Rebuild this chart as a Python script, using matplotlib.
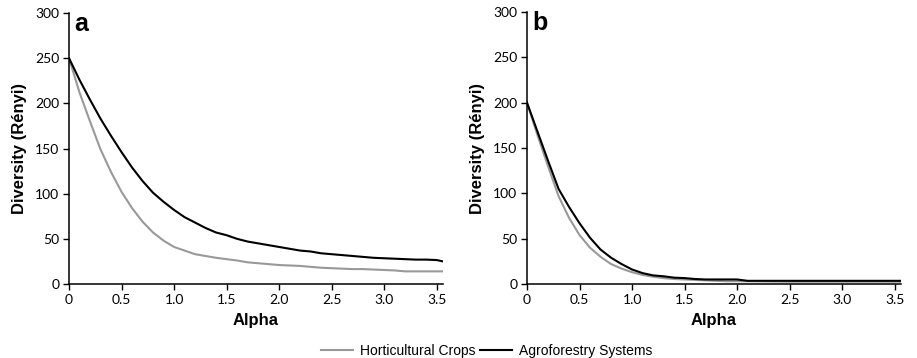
import numpy as np
import matplotlib.pyplot as plt

# panel a
alpha_a = [0, 0.1, 0.2, 0.3, 0.4, 0.5, 0.6, 0.7, 0.8, 0.9, 1.0, 1.1, 1.2, 1.3, 1.4, 1.5,
           1.6, 1.7, 1.8, 1.9, 2.0, 2.1, 2.2, 2.3, 2.4, 2.5, 2.6, 2.7, 2.8, 2.9, 3.0,
           3.1, 3.2, 3.3, 3.4, 3.5, 3.56]
agro_a = [250, 226, 204, 183, 164, 146, 129, 114, 101, 91, 82, 74, 68, 62, 57, 54,
          50, 47, 45, 43, 41, 39, 37, 36, 34, 33, 32, 31, 30, 29, 28.5,
          28, 27.5, 27, 27, 26.5, 25]
horti_a = [250, 212, 180, 149, 124, 102, 84, 69, 57, 48, 41, 37, 33, 31, 29, 27.5,
           26, 24, 23, 22, 21, 20.5, 20, 19, 18, 17.5, 17, 16.5, 16.5, 16, 15.5,
           15, 14, 14, 14, 14, 14]

# panel b
alpha_b = [0, 0.1, 0.2, 0.3, 0.4, 0.5, 0.6, 0.7, 0.8, 0.9, 1.0, 1.1, 1.2, 1.3, 1.4, 1.5,
           1.6, 1.7, 1.8, 1.9, 2.0, 2.1, 2.5, 3.0, 3.56]
agro_b = [200, 168, 136, 105, 85, 67, 51, 38, 29, 22, 16, 12, 9.5, 8.5, 7, 6.5,
          5.5, 5, 5, 5, 5, 3.5, 3.5, 3.5, 3.5]
horti_b = [200, 164, 130, 97, 73, 54, 40, 30, 22, 17, 13, 10, 8, 6.5, 5.5, 5,
           4.5, 4, 3.5, 3, 3, 3, 2.5, 2.5, 2.5]

xticks = [0, 0.5, 1.0, 1.5, 2.0, 2.5, 3.0, 3.5]
xticklabels = ['0', '0.5', '1.0', '1.5', '2.0', '2.5', '3.0', '3.5']
yticks = [0, 50, 100, 150, 200, 250, 300]

fig = plt.figure(figsize=(9.17, 3.58), dpi=100)
ax_a = fig.add_axes([69 / 917, 1 - 284 / 358, 374 / 917, 271 / 358])
ax_b = fig.add_axes([527 / 917, 1 - 284 / 358, 374 / 917, 272 / 358])


def style(ax, letter):
    for s in ['top', 'right']:
        ax.spines[s].set_visible(False)
    for s in ['left', 'bottom']:
        ax.spines[s].set_linewidth(1.1)
    ax.set_xlim(0, 3.56)
    ax.set_ylim(0, 300)
    ax.set_xticks(xticks)
    ax.set_xticklabels(xticklabels)
    ax.set_yticks(yticks)
    ax.tick_params(direction='out', length=4, width=1, labelsize=10, pad=3)
    for lab in ax.get_xticklabels() + ax.get_yticklabels():
        lab.set_family('Lato')
    ax.set_xlabel('Alpha', fontsize=12, fontweight='bold', family='Liberation Sans', labelpad=5)
    ax.set_ylabel('Diversity (Rényi)', fontsize=12, fontweight='bold', family='Liberation Sans', labelpad=6)
    ax.text(0.013, 0.935, letter, transform=ax.transAxes, fontsize=18, fontweight='bold',
            family='Liberation Sans', va='baseline', ha='left')


h1, = ax_a.plot(alpha_a, horti_a, color='#999999', lw=1.5, label='Horticultural Crops')
h2, = ax_a.plot(alpha_a, agro_a, color='black', lw=1.5, label='Agroforestry Systems')
ax_b.plot(alpha_b, horti_b, color='#999999', lw=1.5)
ax_b.plot(alpha_b, agro_b, color='black', lw=1.5)
style(ax_a, 'a')
style(ax_b, 'b')

fig.legend(handles=[h1, h2], loc='lower center', bbox_to_anchor=(0.531, -0.035), ncol=2,
           frameon=False, prop={'family': 'Liberation Sans', 'size': 10},
           handlelength=2.3, columnspacing=0.35, handletextpad=0.5)

fig.savefig('out.png', dpi=100)
